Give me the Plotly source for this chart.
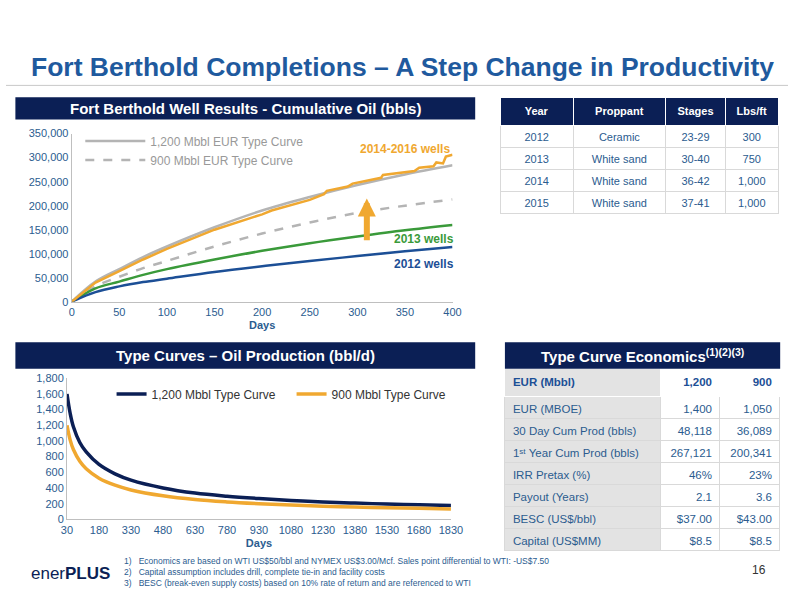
import plotly.graph_objects as go

# Cumulative oil (bbls) vs days
days = [0, 25, 50, 75, 100, 150, 200, 250, 300, 350, 400]
tc_1200 = [0, 42000, 68000, 93000, 115000, 155000, 190000, 218000, 243000, 265000, 284000]
tc_900 = [0, 32000, 52000, 70000, 85000, 115000, 142000, 165000, 185000, 200000, 213000]
wells_2013 = [0, 28000, 42000, 56000, 68000, 88000, 106000, 122000, 136000, 149000, 160000]
wells_2012 = [0, 20000, 32000, 41000, 48000, 62000, 74000, 85000, 95000, 105000, 114000]
days_1416 = [0, 25, 50, 75, 100, 150, 200, 210, 250, 265, 268, 290, 295, 325, 327, 360, 365, 380, 383, 390, 393, 400]
wells_1416 = [0, 40000, 64000, 88000, 110000, 150000, 182000, 190000, 212000, 224000, 231000, 240000, 246000, 258000, 264000, 272000, 279000, 282000, 290000, 288000, 302000, 306000]

# Type curve rates (bbl/d)
rate_days = [30, 45, 60, 90, 120, 180, 255, 330, 480, 630, 780, 930, 1080, 1230, 1380, 1530, 1680, 1830]
rate_1200 = [1600, 1350, 1180, 980, 860, 700, 580, 500, 400, 335, 295, 265, 240, 222, 207, 195, 185, 176]
rate_900 = [1200, 1010, 890, 740, 645, 525, 435, 375, 300, 252, 222, 200, 182, 168, 157, 148, 141, 133]

proppant_header = ["Year", "Proppant", "Stages", "Lbs/ft"]
proppant_rows = [["2012", "2013", "2014", "2015"],
                 ["Ceramic", "White sand", "White sand", "White sand"],
                 ["23-29", "30-40", "36-42", "37-41"],
                 ["300", "750", "1,000", "1,000"]]

econ_labels = ["EUR (MBOE)", "30 Day Cum Prod (bbls)", "1ˢᵗ Year Cum Prod (bbls)",
               "IRR Pretax (%)", "Payout (Years)", "BESC (US$/bbl)", "Capital (US$MM)"]
econ_1200 = ["1,400", "48,118", "267,121", "46%", "2.1", "$37.00", "$8.5"]
econ_900 = ["1,050", "36,089", "200,341", "23%", "3.6", "$43.00", "$8.5"]

NAVY = "#0b1f55"
BLUE = "#1f5a9e"
TICK = "#2b5c8f"
ORANGE = "#f0a830"
GREEN = "#3a9a3a"
DARKBLUE = "#1c4f96"
GREY = "#b4b4b4"
FONT = "Liberation Sans"

fig = go.Figure()
fig.add_trace(go.Scatter(x=days, y=tc_1200, mode="lines", line=dict(color=GREY, width=2.5, shape="spline"),
                         name="1,200 Mbbl EUR Type Curve", xaxis="x", yaxis="y"))
fig.add_trace(go.Scatter(x=days, y=tc_900, mode="lines", line=dict(color=GREY, width=2.5, dash="dash", shape="spline"),
                         name="900 Mbbl EUR Type Curve", xaxis="x", yaxis="y"))
fig.add_trace(go.Scatter(x=days, y=wells_2013, mode="lines", line=dict(color=GREEN, width=2.5, shape="spline"),
                         showlegend=False, xaxis="x", yaxis="y"))
fig.add_trace(go.Scatter(x=days, y=wells_2012, mode="lines", line=dict(color=DARKBLUE, width=2.5, shape="spline"),
                         showlegend=False, xaxis="x", yaxis="y"))
fig.add_trace(go.Scatter(x=days_1416, y=wells_1416, mode="lines", line=dict(color=ORANGE, width=2.5),
                         showlegend=False, xaxis="x", yaxis="y"))

fig.add_trace(go.Scatter(x=rate_days, y=rate_1200, mode="lines", line=dict(color=NAVY, width=3.5, shape="spline"),
                         showlegend=False, xaxis="x2", yaxis="y2"))
fig.add_trace(go.Scatter(x=rate_days, y=rate_900, mode="lines", line=dict(color=ORANGE, width=3.5, shape="spline"),
                         showlegend=False, xaxis="x2", yaxis="y2"))

# Top right table
fig.add_trace(go.Table(
    domain=dict(x=[0.632, 0.988], y=[0.60, 0.845]),
    columnwidth=[1.1, 1.4, 0.9, 0.8],
    header=dict(values=["<b>%s</b>" % h for h in proppant_header], fill_color=NAVY,
                font=dict(color="white", size=11, family=FONT), height=26, align="center",
                line=dict(color="white", width=1)),
    cells=dict(values=proppant_rows, fill_color="white", font=dict(color=TICK, size=11, family=FONT),
               height=22, align="center", line=dict(color="#d9d9d9", width=1))))

# Economics table
fig.add_trace(go.Table(
    domain=dict(x=[0.638, 0.99], y=[0.04, 0.384]),
    columnwidth=[2.2, 0.85, 0.85],
    header=dict(values=["<b>EUR (Mbbl)</b>", "<b>1,200</b>", "<b>900</b>"],
                fill_color=[["#e3e3e3"], ["white"], ["white"]],
                font=dict(color=DARKBLUE, size=11.5, family=FONT), height=22, align=["left", "right", "right"],
                line=dict(color="white", width=1)),
    cells=dict(values=[econ_labels, econ_1200, econ_900],
               fill_color=[["#e3e3e3"] * 7, ["white"] * 7, ["white"] * 7],
               font=dict(color=TICK, size=11.5, family=FONT), height=22, align=["left", "right", "right"],
               line=dict(color="#d9d9d9", width=1))))

shapes = [
    dict(type="rect", xref="paper", yref="paper", x0=0.012, x1=0.6, y0=0.807, y1=0.845, fillcolor=NAVY, line_width=0),
    dict(type="rect", xref="paper", yref="paper", x0=0.012, x1=0.6, y0=0.383, y1=0.428, fillcolor=NAVY, line_width=0),
    dict(type="rect", xref="paper", yref="paper", x0=0.638, x1=0.99, y0=0.383, y1=0.428, fillcolor=NAVY, line_width=0),
    dict(type="line", xref="paper", yref="paper", x0=0.0, x1=1.0, y0=0.865, y1=0.865, line=dict(color="#c8c8c8", width=1)),
]

ann = [
    dict(text="<b>Fort Berthold Completions – A Step Change in Productivity</b>", x=0.03, y=0.897, xanchor="left",
         font=dict(color=BLUE, size=26.5, family=FONT)),
    dict(text="<b>Fort Berthold Well Results - Cumulative Oil (bbls)</b>", x=0.306, y=0.826, xanchor="center",
         font=dict(color="white", size=15, family=FONT)),
    dict(text="<b>Type Curves – Oil Production (bbl/d)</b>", x=0.306, y=0.406, xanchor="center",
         font=dict(color="white", size=15, family=FONT)),
    dict(text="<b>Type Curve Economics<sup>(1)(2)(3)</sup></b>", x=0.814, y=0.406, xanchor="center",
         font=dict(color="white", size=15, family=FONT)),
    dict(text="<b>2014-2016 wells</b>", x=0.51, y=0.757, xanchor="center", font=dict(color=ORANGE, size=12, family=FONT)),
    dict(text="<b>2013 wells</b>", x=0.535, y=0.603, xanchor="center", font=dict(color=GREEN, size=12, family=FONT)),
    dict(text="<b>2012 wells</b>", x=0.535, y=0.562, xanchor="center", font=dict(color=DARKBLUE, size=12, family=FONT)),
    dict(text="1)   Economics are based on WTI US$50/bbl and NYMEX US$3.00/Mcf. Sales point differential to WTI: -US$7.50<br>"
              "2)   Capital assumption includes drill, complete tie-in and facility costs<br>"
              "3)   BESC (break-even supply costs) based on 10% rate of return and are referenced to WTI",
         x=0.148, y=0.037, xanchor="left", align="left", font=dict(color=TICK, size=8.5, family=FONT)),
    dict(text="16", x=0.975, y=0.04, xanchor="right", font=dict(color="#333", size=12, family=FONT)),
    dict(text="ener<b>PLUS</b>", x=0.03, y=0.035, xanchor="left", font=dict(color=NAVY, size=17, family=FONT)),
    dict(x=310, y=215000, ax=310, ay=125000, xref="x", yref="y", axref="x", ayref="y", text="", showarrow=True,
         arrowhead=2, arrowsize=0.6, arrowwidth=6, arrowcolor=ORANGE),
]
for a in ann:
    a.setdefault("xref", "paper")
    a.setdefault("yref", "paper")
    a.setdefault("showarrow", False)
    a.setdefault("yanchor", "middle")

axis_font = dict(color=TICK, size=11, family=FONT)
fig.update_layout(
    width=800, height=600, margin=dict(l=0, r=0, t=0, b=0), paper_bgcolor="white", plot_bgcolor="white",
    shapes=shapes, annotations=ann,
    xaxis=dict(domain=[0.084, 0.571], range=[0, 400], dtick=50, tickfont=axis_font, showgrid=False, zeroline=False,
               showline=True, linecolor="#bfbfbf", ticks="", anchor="y",
               title=dict(text="<b>Days</b>", font=dict(color=TICK, size=11, family=FONT), standoff=4)),
    yaxis=dict(domain=[0.497, 0.783], range=[0, 350000], dtick=50000, tickformat=",", tickfont=axis_font,
               showgrid=False, zeroline=False, showline=True, linecolor="#bfbfbf", anchor="x"),
    xaxis2=dict(domain=[0.078, 0.569], range=[30, 1830], tickvals=list(range(30, 1831, 150)), tickfont=axis_font,
                showgrid=False, zeroline=False, showline=True, linecolor="#bfbfbf", anchor="y2",
                title=dict(text="<b>Days</b>", font=dict(color=TICK, size=11, family=FONT), standoff=4)),
    yaxis2=dict(domain=[0.127, 0.367], range=[0, 1800], dtick=200, tickformat=",", tickfont=axis_font,
                showgrid=False, zeroline=False, showline=True, linecolor="#bfbfbf", anchor="x2"),
    legend=dict(x=0.095, y=0.795, xanchor="left", yanchor="top", font=dict(color="#999", size=12, family=FONT),
                bgcolor="rgba(0,0,0,0)", tracegroupgap=0, itemwidth=60),
)

fig.add_trace(go.Scatter(x=[None], y=[None], mode="lines", line=dict(color=NAVY, width=3.5),
                         name="1,200 Mbbl Type Curve", legend="legend2", xaxis="x2", yaxis="y2"))
fig.add_trace(go.Scatter(x=[None], y=[None], mode="lines", line=dict(color=ORANGE, width=3.5),
                         name="900 Mbbl Type Curve", legend="legend2", xaxis="x2", yaxis="y2"))
fig.update_layout(legend2=dict(x=0.135, y=0.365, xanchor="left", yanchor="top", orientation="h",
                               font=dict(color="#333", size=12, family=FONT), bgcolor="rgba(0,0,0,0)",
                               entrywidth=135))

fig.write_html("out.html", config={"displayModeBar": False},
               post_script="document.body.style.margin='0';document.body.style.overflow='hidden';")
